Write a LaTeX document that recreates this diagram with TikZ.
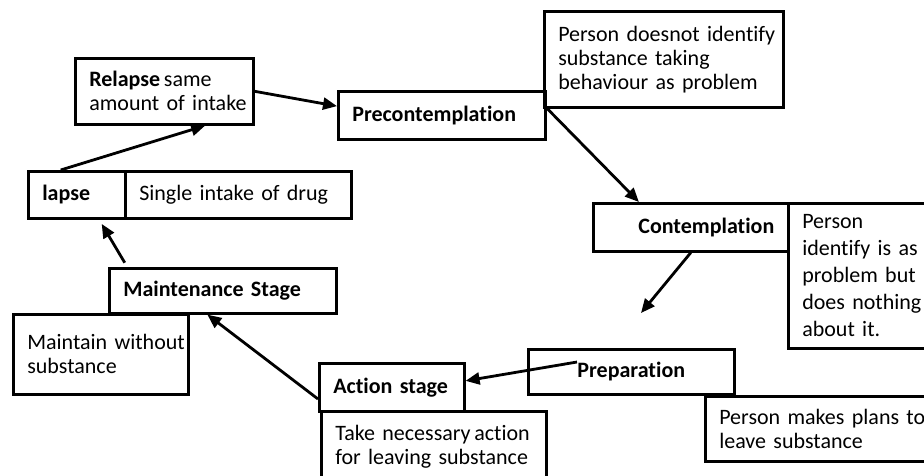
\documentclass[tikz,border=0pt]{standalone}
\usepackage{fontspec}
\setmainfont{Carlito}[Ligatures=NoCommon]
\usetikzlibrary{positioning,arrows.meta}

\begin{document}
\begin{tikzpicture}[x=1pt, y=-1pt,
    stage/.style={draw, rectangle, line width=2.6pt, anchor=north west,
        inner xsep=14pt, inner ysep=0pt, align=left,
        font=\fontsize{22}{24}\selectfont},
    move/.style={-{Triangle[length=14pt,width=12pt]}, line width=2.8pt}
]
\useasboundingbox (0,0) rectangle (924,475);
\clip (0,0) rectangle (924,475);
% Stages of change
\node[stage, minimum width=178pt, minimum height=66pt, text width=150pt] (relapse) at (74,57) {\textbf{Relapse}\,same\\\mbox{amount of intake}};
\node[stage, minimum width=207pt, minimum height=48pt, text width=179pt] (precon) at (337,90) {\textbf{Precontemplation}};
\node[stage, minimum width=239pt, minimum height=96pt, text width=211pt] (notid) at (543,10) {\mbox{Person doesnot identify}\\substance taking\\behaviour as problem};
\node[stage, minimum width=195pt, minimum height=48pt, text width=167pt, align=right] (contemp) at (592,202) {\textbf{Contemplation}};
\node[stage, minimum width=165pt, minimum height=145pt, text width=137pt, font=\fontsize{22}{27}\selectfont] (ident) at (787,202) {Person\\\mbox{identify is as}\\problem but\\\mbox{does nothing}\\about it.};
\node[stage, minimum width=206pt, minimum height=45pt, text width=178pt, align=center] (prep) at (527,348) {\textbf{Preparation}};
\node[stage, minimum width=240pt, minimum height=65pt, text width=212pt] (plans) at (704,395) {\mbox{Person makes plans to}\\leave substance};
\node[stage, minimum width=145pt, minimum height=48pt, text width=117pt] (action) at (318,362) {\textbf{Action stage}};
\node[stage, minimum width=225pt, minimum height=70pt, text width=197pt] (take) at (320,410) {\mbox{Take necessary\,action}\\\mbox{for leaving substance}};
\node[stage, minimum width=227pt, minimum height=45pt, text width=199pt] (maint) at (108,267) {\textbf{Maintenance Stage}};
\node[stage, minimum width=175pt, minimum height=80pt, text width=147pt] (keep) at (12,313) {\mbox{Maintain without}\\substance};
\node[stage, minimum width=97pt, minimum height=47pt, text width=69pt] (lapse) at (27,170) {\textbf{lapse}};
\node[stage, minimum width=226pt, minimum height=47pt, text width=198pt] (single) at (124,170) {Single intake of drug};

% Cycle
\coordinate (prepin) at (641,313);
\coordinate (prepout) at (577,362);
\draw[move] (relapse.east) -- (precon.175);
\draw[move] (precon.4) -- (contemp.154);
\draw[move] (contemp.south) -- (prepin);
\draw[move] (prepout) -- (action.5);
\draw[move] (action.189) -- (maint.237);
\draw[move, shorten <=5pt, shorten >=5pt] (maint.166) -- (lapse.-48);
\draw[move] (lapse.123) -- (relapse.-40);
\end{tikzpicture}
\end{document}
